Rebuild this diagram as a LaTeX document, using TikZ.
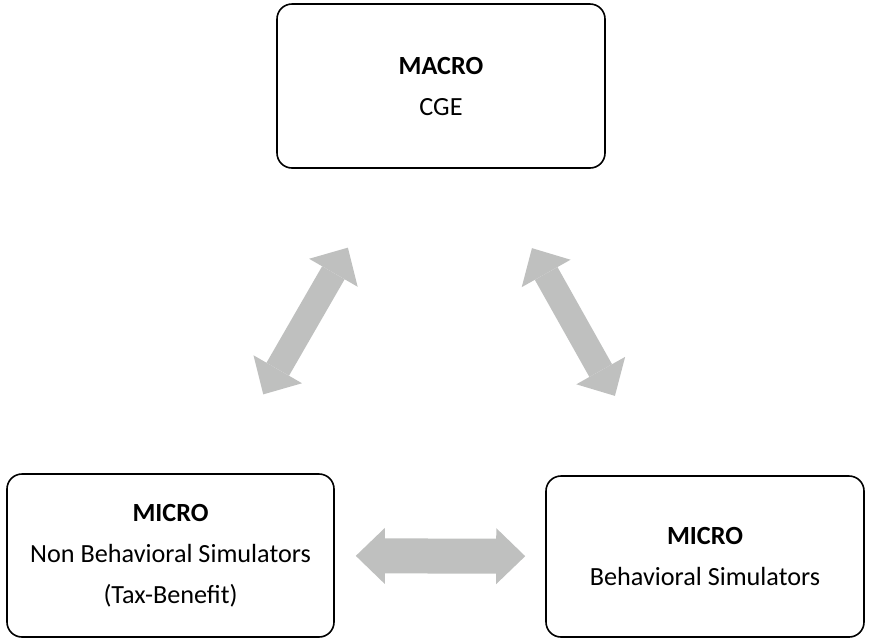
\documentclass[tikz,border=0pt]{standalone}
\usepackage{fontspec}
\setmainfont{Carlito}
\usetikzlibrary{arrows.meta}
\usepackage{xcolor}
\definecolor{lgray}{RGB}{191,192,191}

\begin{document}
\begin{tikzpicture}[
    x=0.5pt, y=-0.5pt,
    box/.style={draw,
        line width=0.8pt,
        rounded corners=7.5pt,
        align=center,
        font=\fontsize{13.1}{20.5}\selectfont},
    link/.style={lgray,
        line width=#1,
        {Triangle[length=14.5pt,width=28pt,line width=0pt]}-{Triangle[length=14.5pt,width=28pt,line width=0pt]}}]

\useasboundingbox (0,0) rectangle (871,639);

% Macro model
\node[box,
    minimum width=164pt,
    minimum height=82pt] (macro) at (441,86) {\textbf{MACRO}\\CGE};

% Micro, non behavioral
\node[box,
    minimum width=163.5pt,
    minimum height=81.5pt] (micronb) at (170.5,555.5)
    {\textbf{MICRO}\\Non Behavioral Simulators\\(Tax-Benefit)};

% Micro, behavioral
\node[box,
    minimum width=159pt,
    minimum height=80.5pt] (microb) at (705,556.5)
    {\textbf{MICRO}\\Behavioral Simulators};

% Links
\draw[link=13pt, shorten <=45.5pt, shorten >=45.5pt] (micronb) -- (macro);
\draw[link=13pt, shorten <=45.5pt, shorten >=45.5pt] (macro) -- (microb);
\draw[link=17.5pt, shorten <=10.5pt, shorten >=10pt] (micronb) -- (microb);

\end{tikzpicture}
\end{document}
